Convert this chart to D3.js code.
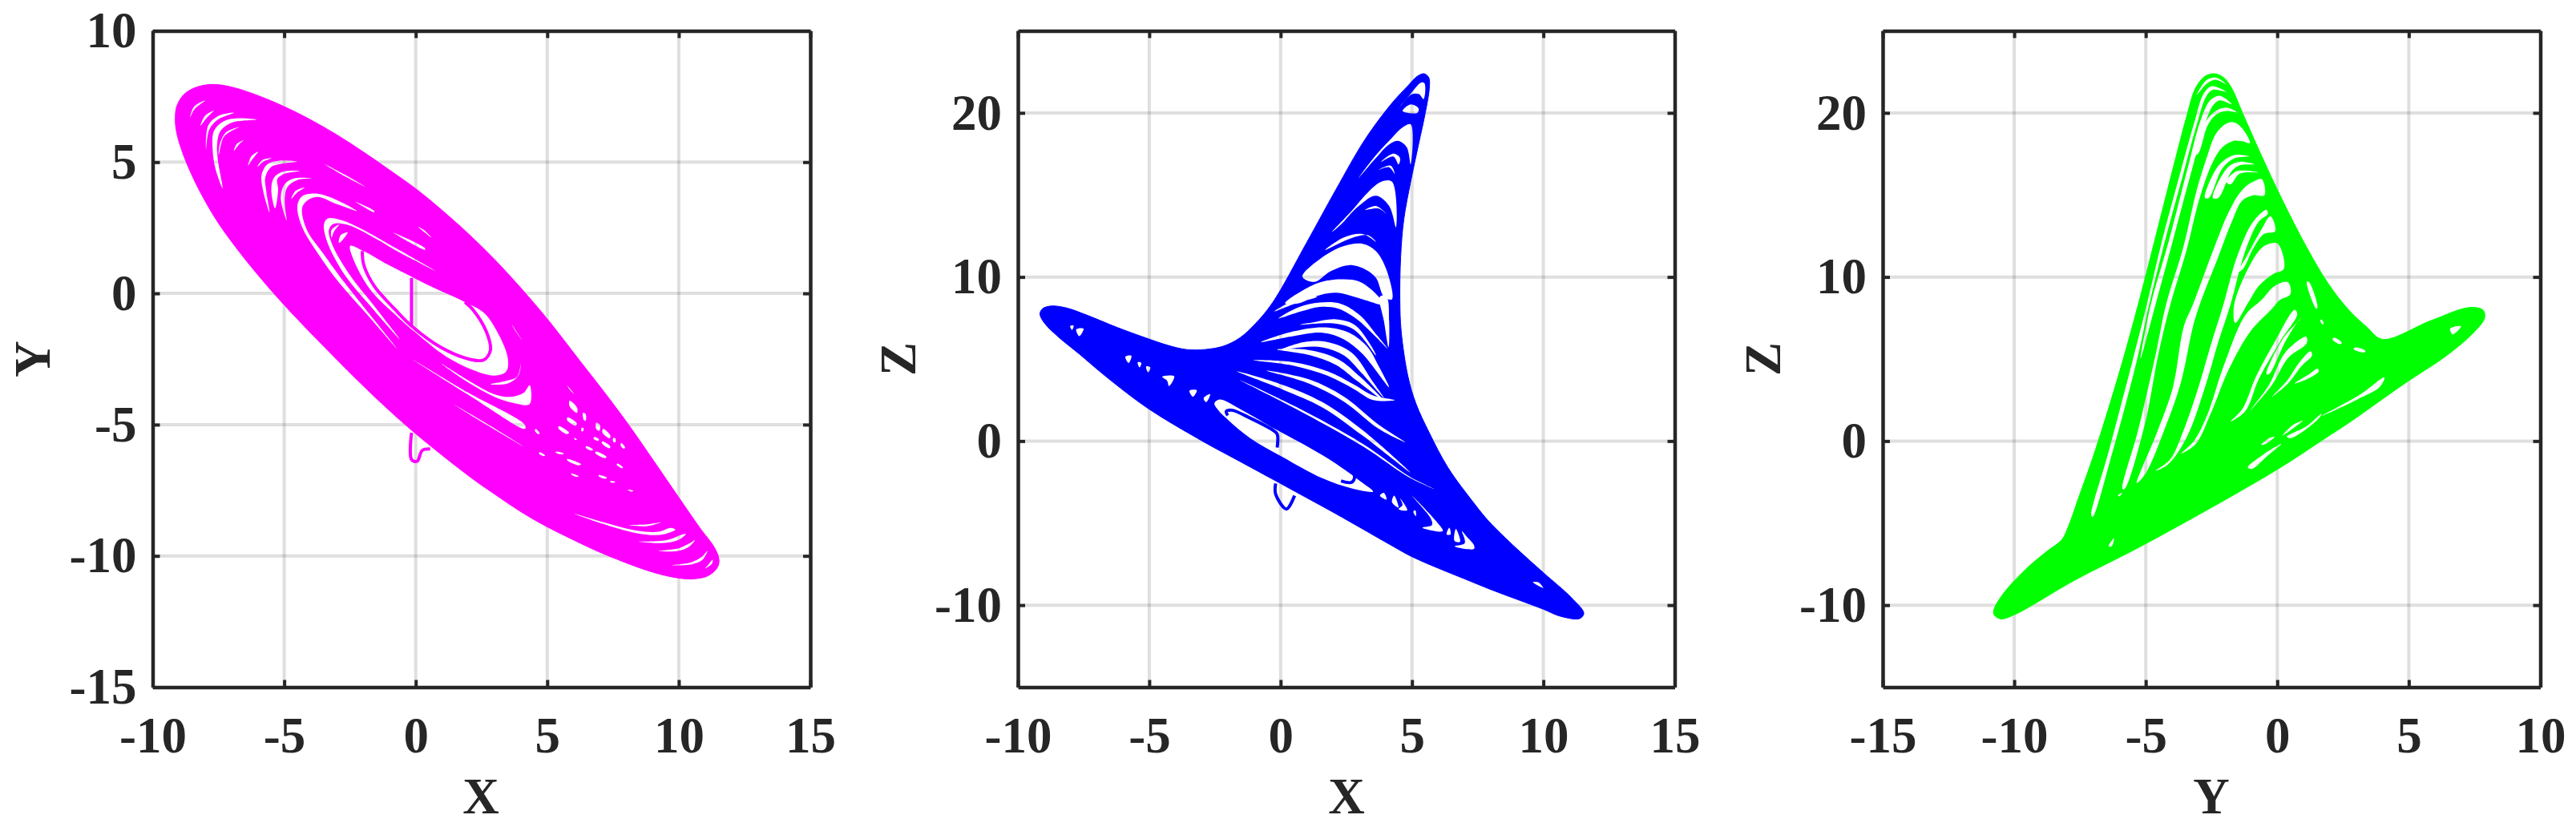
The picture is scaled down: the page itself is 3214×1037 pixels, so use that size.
<!DOCTYPE html>
<html><head><meta charset="utf-8">
<script src="https://cdn.jsdelivr.net/npm/d3@7"></script>
<style>html,body{margin:0;padding:0;background:#fff}svg{display:block}</style>
</head><body><div id="c"></div>
<script>
const xTicksA=[-10,-5,0,5,10,15], yTicksA=[-15,-10,-5,0,5,10], zTicks=[-10,0,10,20];

/* ---------- X-Y projection ---------- */
const xyOutline=[[-9.14,6.7],[-9.09,7.11],[-8.83,7.56],[-8.38,7.84],[-7.72,7.96],[-6.96,7.85],[-6.04,7.55],[-5.03,7.13],[-4.01,6.62],[-3,6.04],[-1.98,5.38],[-0.97,4.68],[0.05,3.95],[0.96,3.2],[1.97,2.3],[2.99,1.3],[4,0.2],[5.02,-1],[6.24,-2.57],[7.15,-3.74],[8.06,-4.96],[9.08,-6.43],[9.99,-7.76],[10.8,-8.93],[11.36,-9.69],[11.53,-10.15],[11.46,-10.45],[11.11,-10.76],[10.5,-10.88],[9.79,-10.81],[8.98,-10.61],[7.96,-10.25],[6.95,-9.84],[5.93,-9.36],[4.97,-8.88],[4,-8.32],[3.09,-7.71],[2.28,-7.15],[0.96,-6.13],[-0.16,-5.21],[-1.07,-4.4],[-2.09,-3.43],[-3.1,-2.42],[-4.62,-0.85],[-5.64,0.28],[-6.65,1.51],[-7.47,2.63],[-8.08,3.65],[-8.58,4.66],[-8.94,5.58],[-9.11,6.24]];
const xyHole=[[-2.49,1.81],[-1.98,1.61],[-1.07,1.1],[-0.16,0.64],[0.86,0.13],[1.87,-0.33],[2.58,-0.73],[3.09,-1.45],[3.5,-2.47],[3.44,-2.97],[2.99,-3.13],[2.18,-2.92],[1.16,-2.41],[-0.06,-1.45],[-0.87,-0.73],[-1.68,0.08],[-2.24,1]];
const xyStrandA=[[-2.03,1.61],[-1.98,1.1],[-1.58,0.28],[-0.77,-0.63],[-0.16,-1.24],[0.96,-2.06],[1.97,-2.49],[2.58,-2.54],[2.84,-2.16],[2.68,-1.45],[2.18,-0.63],[1.87,-0.33]];
const xyStart=[[-0.16,0.59],[-0.16,-1.24]];
const xyTail=[[-0.16,-5.31],[-0.16,-6.33],[0.05,-6.4],[0.25,-5.98],[0.55,-5.93]];
const xyGaps=[
[[-6.05,6.62],[-6.76,6.67],[-7.31,6.55],[-7.67,6.19],[-7.72,5.48],[-7.62,4.77],[-7.34,4],[-7.52,5.07],[-7.55,5.68],[-7.42,6.19],[-7.01,6.5],[-6.55,6.58]],
[[-6.91,6.88],[-7.52,6.75],[-7.89,6.39],[-7.97,5.48],[-7.85,6.24],[-7.52,6.62]],
[[-8.02,7.34],[-8.43,7.11],[-8.58,6.7],[-8.4,7.03]],
[[-7.67,6.97],[-8.02,6.75],[-8.18,6.39],[-7.95,6.68]],
[[-6.71,6.34],[-7.21,6.14],[-7.45,5.68],[-7.49,5.27],[-7.31,5.94],[-7.04,6.17]],
[[-6.55,5.83],[-6.81,5.68],[-6.91,5.43],[-6.73,5.66]],
[[-5.99,5.4],[-6.25,5.22],[-6.37,4.87],[-6.2,5.12]],
[[-4.52,5.02],[-5.23,5.05],[-5.64,4.92],[-5.86,4.51],[-5.79,3.85],[-5.56,3.09],[-5.69,3.95],[-5.72,4.41],[-5.49,4.82],[-5.03,4.95]],
[[-5.49,5.15],[-5.84,5.07],[-6.02,4.82],[-5.79,5.02]],
[[-4.42,4.66],[-5.03,4.64],[-5.39,4.41],[-5.49,3.95],[-5.35,3.24],[-5.23,3.95],[-5.26,4.36],[-4.98,4.56]],
[[-3.96,4.38],[-4.62,4.38],[-4.98,4.16],[-5.13,3.65],[-4.91,2.78],[-4.98,3.54],[-4.88,4.05],[-4.52,4.31]],
[[-4.22,4.03],[-4.57,3.9],[-4.73,3.6],[-4.52,3.83]],
[[-2.24,3.14],[-3.1,3.6],[-3.81,3.8],[-4.32,3.7],[-4.5,3.34],[-4.32,2.53],[-3.71,1.51],[-2.9,0.39],[-1.78,-0.88],[-0.72,-2.1],[-2.69,0.39],[-3.51,1.51],[-4.14,2.42],[-4.32,3.24],[-4.12,3.54],[-3.71,3.67],[-3.1,3.44]],
[[0.76,0.85],[-0.56,1.61],[-2.09,2.47],[-2.8,2.78],[-3.35,2.85],[-3.49,2.63],[-3.35,1.92],[-2.69,0.69],[-1.78,-0.42],[-0.61,-1.75],[-1.63,-0.42],[-2.54,0.75],[-3.2,1.92],[-3.3,2.42],[-3.12,2.65],[-2.59,2.61],[-1.58,2.12],[-0.56,1.53]],
[[-2.59,2.32],[-2.85,2.22],[-2.92,1.92],[-2.75,2.07]],
[[-2.9,2.63],[-3.2,2.42],[-3.2,2.12],[-3.1,2.37]],
[[-1.93,4.07],[-2.69,4.46],[-3.46,4.92],[-2.69,4.52]],
[[-1.58,3.09],[-2.29,3.49],[-1.58,3.14]],
[[0.35,1.66],[-0.87,2.32],[0.35,1.72]],
[[0.6,2.12],[0.1,2.53],[0.3,2.42]],
[[0.96,-2.67],[1.97,-3.38],[2.99,-3.94],[3.7,-4.17],[4.33,-4.22],[4.33,-3.5],[4.1,-3.79],[3.6,-3.94],[2.99,-3.84],[1.97,-3.3]],
[[2.84,-3.46],[3.5,-3.43],[3.9,-3.13],[4,-2.67],[3.85,-3.18],[3.44,-3.33]],
[[3.65,-1.19],[4.05,-1.8],[3.8,-1.45]],
[[1.47,-4.25],[2.78,-5.06],[4.15,-5.87],[2.78,-5.01]],
[[-0.11,-2.52],[1.97,-3.84],[4.15,-5.16],[4.15,-5.01],[1.97,-3.77]],
[[5.85,-4.09],[6.13,-4.35],[6.13,-4.55],[5.85,-4.3]],
[[5.75,-3.5],[6.03,-3.84],[5.88,-3.7]],
[[5.78,-4.72],[6.13,-4.96],[6.08,-5.04],[5.75,-4.82]],
[[5.44,-5.06],[5.83,-5.31],[5.75,-5.36],[5.42,-5.13]],
[[6.36,-4.55],[6.46,-4.6],[6.46,-4.85],[6.39,-4.82]],
[[6.86,-4.93],[7,-5.01],[6.98,-5.23],[6.86,-5.16]],
[[7.12,-5.16],[7.4,-5.42],[7.37,-5.52],[7.1,-5.31]],
[[7.1,-5.64],[7.4,-5.84],[7.35,-5.9],[7.07,-5.7]],
[[6.79,-5.47],[6.97,-5.57],[6.93,-5.62],[6.76,-5.54]],
[[7.81,-5.7],[7.96,-5.87],[7.91,-5.92],[7.79,-5.8]],
[[6.85,-6.03],[7.25,-6.23],[7.2,-6.28],[6.82,-6.08]],
[[6.49,-5.82],[6.74,-5.95],[6.69,-5.99],[6.46,-5.87]],
[[5.75,-6.31],[6.29,-6.51],[6.19,-6.55],[5.78,-6.38]],
[[5.32,-6.03],[5.63,-6.1],[5.58,-6.13],[5.34,-6.08]],
[[6.95,-6.92],[7.27,-7.02],[7.2,-7.06],[6.97,-6.98]],
[[5.91,-6.86],[6.19,-6.97],[6.13,-6.99],[5.93,-6.91]],
[[7.66,-6.48],[7.88,-6.64],[7.84,-6.66],[7.64,-6.53]],
[[4.56,-5.16],[4.71,-5.33],[4.66,-5.36],[4.53,-5.23]],
[[4.71,-6.05],[4.92,-6.18],[4.87,-6.2],[4.69,-6.11]],
[[7.4,-7.15],[7.59,-7.18],[7.55,-7.21],[7.4,-7.19]],
[[6.03,-5.5],[6.13,-5.57],[6.05,-5.58]],
[[7.5,-5.52],[7.59,-5.52],[7.59,-5.67],[7.52,-5.67]],
[[6.32,-5.11],[6.39,-5.16],[6.34,-5.26],[6.29,-5.23]],
[[8.06,-7.48],[8.27,-7.52],[8.21,-7.55]],
[[6.03,-8.39],[7.15,-8.79],[8.37,-9.13],[9.28,-9.2],[9.87,-9],[9.69,-8.93],[9.23,-9.08],[8.37,-9.03],[7.15,-8.72]],
[[8.47,-9.46],[9.38,-9.51],[9.99,-9.39],[10.27,-9.16],[10.09,-9.2],[9.69,-9.36],[9.18,-9.44]],
[[9.23,-9.81],[9.99,-9.81],[10.4,-9.64],[10.62,-9.39],[10.45,-9.5],[9.99,-9.71]],
[[9.74,-10.35],[10.5,-10.32],[10.9,-10.15],[11.09,-9.81],[10.85,-10.05],[10.45,-10.25]],
[[11,-10.48],[11.26,-10.3],[11.29,-10.15],[11.11,-10.35]],
[[8.11,-8.82],[8.77,-8.87],[9.33,-8.72],[8.77,-8.8]]
];

/* ---------- X-Z projection ---------- */
const xzOutline=[[-9.16,7.74],[-9.06,8.07],[-8.72,8.23],[-8.17,8.12],[-7.35,7.66],[-6.23,6.93],[-5.12,6.28],[-4.3,5.84],[-3.59,5.58],[-2.88,5.58],[-2.17,5.79],[-1.56,6.28],[-0.95,7.17],[-0.3,8.45],[0.98,12.06],[2.1,15.31],[3.22,18.4],[4.24,20.6],[4.85,21.66],[5.2,22.23],[5.46,22.39],[5.64,22.15],[5.66,21.5],[5.51,20.03],[5.25,18.08],[4.95,15.8],[4.69,13.52],[4.57,11.24],[4.54,8.6],[4.59,6.68],[4.85,3.92],[5.15,2.29],[5.66,0.5],[6.37,-1.62],[7.39,-3.85],[7.93,-4.9],[8.98,-6.55],[10.02,-8.05],[11.07,-9.55],[11.54,-10.5],[11.38,-10.82],[10.65,-10.68],[10,-10.25],[9,-9.65],[8,-9.05],[7,-8.4],[6,-7.75],[5,-7.05],[4.13,-6.28],[2.1,-4.43],[0.58,-3.1],[-0.24,-2.38],[-1.46,-1.32],[-2.98,0],[-5.02,1.96],[-6.64,3.92],[-7.66,5.3],[-8.47,6.36],[-8.98,7.17]];
const xzHole=[[-2.52,2.29],[-2.32,2.53],[-1.46,1.88],[-0.13,0.66],[1.09,-0.4],[2.1,-1.37],[3.02,-2.43],[3.52,-3.08],[2.71,-2.89],[1.59,-2.27],[0.07,-0.97],[-1.15,0.17],[-1.96,1.23],[-2.37,1.88]];
const xzStrandA=[[-2.01,1.56],[-2.07,1.8],[-1.86,1.88],[-1.15,1.39],[-0.29,0.66],[-0.13,0.42],[-0.13,-0.4]];
const xzStrandB=[[1.8,-0.8],[2.81,-2.1],[2.71,-2.51],[2.3,-2.43]];
const xzTail=[[-0.19,-2.59],[-0.19,-3.24],[0.22,-4.14],[0.53,-3.33]];
const xzGaps=[
[[4.49,20.27],[4.95,21.17],[5.35,21.85],[5.48,21.79],[5.44,20.84],[5.27,21.14],[5,21.14],[4.69,20.68]],
[[4.64,20.11],[4.95,20.52],[5.25,20.28],[5.2,20]],
[[2.97,16.04],[3.63,17.43],[4.24,18.48],[4.59,19.05],[4.95,19.3],[4.95,16.86],[4.8,17.91],[4.49,18.29],[4.13,18.08],[3.63,17.26]],
[[3.83,17.02],[4.29,17.51],[4.54,17.26],[4.49,16.86],[4.29,17.34]],
[[3.73,16.53],[4.13,16.69],[4.34,16.29],[4.19,16.78]],
[[1.95,12.74],[2.71,14.04],[3.32,15.15],[3.83,15.8],[4.24,15.8],[4.39,13.03],[4.13,14.33],[3.63,14.95],[2.92,14.25],[2.3,13.2]],
[[3.22,14.09],[3.63,14.33],[4.03,13.84],[3.73,14.17]],
[[1.7,11.65],[2.41,12.41],[3.12,12.62],[3.63,12.14],[3.32,12.54],[2.71,12.38]],
[[0.83,10.02],[1.7,11.32],[2.41,11.89],[3.12,12.02],[3.63,11.57],[4.03,10.43],[4.24,8.64],[3.93,8.8],[3.63,9.94],[3.22,10.46],[2.61,10.72],[1.9,10.35],[1.29,9.7]],
[[0.17,8.39],[1.39,9.61],[2.3,9.86],[3.02,9.7],[3.73,8.8],[3.91,8.31],[3.12,8.64],[2.1,9.04],[1.29,8.8],[0.68,8.39]],
[[3.78,8.8],[3.93,7.34],[4.11,5.71],[4.13,7.34],[4.03,8.8]],
[[-0.24,7.9],[0.27,8.39],[0.88,8.8],[1.39,8.8],[0.58,8.39]],
[[-0.08,7.47],[0.68,8.15],[1.49,8.44],[2.3,8.36],[3.02,7.66],[3.63,6.52],[4.08,5.63],[3.52,6.52],[2.91,7.42],[2.2,8.07],[1.49,8.18],[0.78,7.9]],
[[0.73,7.09],[1.29,7.25],[2.1,7.42],[2.81,7.09],[3.42,5.87],[3.63,5.22],[2.81,6.77],[2,7.17]],
[[-0.74,6.03],[0.48,6.68],[1.69,6.93],[2.61,6.6],[3.32,5.71],[3.73,4.57],[4.13,3.27],[3.12,5.3],[2.41,6.2],[1.59,6.6],[0.48,6.39]],
[[-0.03,5.54],[0.88,6.03],[1.8,6.03],[2.71,5.38],[3.52,3.59],[3.93,2.62],[3.12,4.08],[2.41,5.22],[1.59,5.71],[0.78,5.71]],
[[-0.13,5.58],[1.09,5.54],[2.2,4.98],[3.02,3.92],[3.93,2.45],[2.91,3.67],[2.1,4.65],[1.09,5.25]],
[[-1.05,4.93],[0.48,4.81],[1.8,4.24],[2.81,3.43],[3.52,2.78],[4.34,2.5],[3.52,2.5],[2.81,3.15],[1.8,3.97],[0.48,4.6]],
[[-0.54,4.29],[1.09,3.75],[2.41,2.7],[3.73,0.99],[4.74,-0.07],[3.73,0.75],[2.41,2.4],[1.09,3.5]],
[[-1.66,4.24],[0.07,3.43],[1.59,2.37],[3.12,0.66],[4.95,-1.94],[3.12,0.33],[1.59,2.05],[0.07,3.15]],
[[-1.56,3.72],[0.58,1.96],[3.12,-0.31],[4.95,-2.27],[5.86,-2.92],[4.95,-2.2],[3.12,-0.16],[0.58,2.09]],
[[6.62,-6.42],[7.36,-6.58],[7.36,-6.35],[7.1,-5.85],[6.9,-5.5],[7,-5.95],[7,-6.25]],
[[5.4,-5.28],[6.17,-5.49],[5.91,-4.87],[4.99,-3.33],[5.71,-4.71],[5.76,-5.12]],
[[6.32,-5.69],[6.47,-5.69],[6.42,-5.28]],
[[6.62,-6.09],[6.83,-6.14],[6.67,-5.36]],
[[4.49,-4.14],[4.82,-4.22],[4.54,-3.49],[4.64,-3.9]],
[[4.24,-3.73],[4.49,-4.06],[4.32,-3.33]],
[[3.78,-3.33],[4.03,-3.57],[3.93,-3.16]],
[[5.05,-4.3],[5.15,-4.58],[5.13,-4.22]],
[[9.6,-8.6],[10,-8.95],[9.8,-8.6]],
[[-4.51,3.92],[-4.05,3.95],[-4.25,3.35],[-4.32,3.67]],
[[-3.47,3.07],[-3.19,3.1],[-3.34,2.7]],
[[-2.93,2.62],[-2.68,2.86],[-2.83,2.37]],
[[-5.91,5.14],[-5.68,5.19],[-5.78,4.76]],
[[-5.44,4.81],[-5.3,4.76],[-5.37,4.49]],
[[-5.12,4.54],[-4.96,4.49],[-5.04,4.19]],
[[-7.78,6.81],[-7.5,6.85],[-7.66,6.39]],
[[-8.01,7.01],[-7.88,7.04],[-7.94,6.77]]
];

/* ---------- Y-Z projection ---------- */
const yzOutline=[[-10.77,-10.26],[-10.41,-9.29],[-9.58,-7.84],[-8.75,-6.71],[-8.19,-6.01],[-7.94,-5.19],[-7.53,-3.35],[-7.02,-1.05],[-6.51,1.5],[-5.9,4.75],[-5.29,8.3],[-4.79,11.4],[-4.38,14],[-3.87,17.2],[-3.46,19.7],[-3.11,21.5],[-2.75,22.23],[-2.39,22.39],[-2.04,22.15],[-1.73,21.5],[-1.33,20.03],[-0.61,17.43],[0.2,14.66],[1.12,11.8],[1.93,9.61],[2.71,8],[3.4,6.95],[4,6.2],[5.84,7.34],[7.3,8.14],[7.82,7.98],[7.88,7.5],[7.51,6.69],[6.46,5.24],[4.8,3.46],[2.71,1.1],[1.83,0.18],[-0.05,-1.78],[-4.99,-6.25],[-7.71,-8.49],[-10,-10.59],[-10.52,-10.84],[-10.77,-10.58]];
const yzGaps=[
[[-3.06,21.09],[-2.7,21.98],[-2.34,22.15],[-1.94,21.74],[-2.34,22.02],[-2.65,21.82]],
[[-7.07,-4.54],[-6.41,-0.64],[-5.5,4.9],[-4.95,8.39],[-4.38,12.22],[-3.67,16.45],[-3.16,19.38],[-2.8,21.17],[-2.5,21.62],[-1.94,21.28],[-2.45,21.41],[-2.7,21.01],[-3.06,19.3],[-3.56,16.37],[-4.28,12.14],[-4.87,8.32],[-5.34,4.9],[-6.26,-0.64],[-7.02,-4.62]],
[[-5.2,5],[-4.81,8.31],[-4.12,12.22],[-3.41,16.61],[-2.9,19.62],[-2.55,20.76],[-2.19,21.04],[-1.73,20.52],[-2.19,20.76],[-2.45,20.44],[-2.7,19.54],[-3.26,16.45],[-3.97,12.22],[-4.63,8.31]],
[[-5.88,-2.91],[-5.29,0.67],[-4.63,5.22],[-4.23,8.3],[-3.56,11.89],[-3.06,15.31],[-2.65,17.43],[-2.39,18.57],[-2.09,19.18],[-1.73,19.44],[-1.38,19.14],[-1.04,18.16],[-1.33,18.27],[-1.68,18.29],[-2.09,17.91],[-2.45,17.02],[-2.95,14.82],[-3.46,11.57],[-4.07,8.3],[-4.53,5.22],[-5.04,0.99],[-5.8,-2.91]],
[[-3.16,17.43],[-2.75,19.38],[-2.39,20.06],[-1.94,20.32],[-1.53,20.03],[-1.94,20.11],[-2.34,19.87],[-2.65,19.22],[-3.01,17.51]],
[[-2.75,14.82],[-2.24,16.77],[-1.63,17.43],[-1.07,17.34],[-1.63,17.23],[-2.09,16.61],[-2.6,14.82]],
[[-2.45,14.82],[-1.88,16.69],[-1.43,17.02],[-0.87,16.86],[-1.43,16.81],[-1.73,16.45],[-2.24,14.82]],
[[-1.94,15.8],[-1.53,16.45],[-0.71,16.37],[-1.43,16.29],[-1.78,15.64]],
[[-5.34,-2.56],[-4.58,0.5],[-3.97,3.27],[-3.55,7.01],[-3.21,8.31],[-2.45,11.57],[-1.83,14.01],[-1.33,15.31],[-0.92,15.8],[-0.59,15.96],[-0.49,14.98],[-0.92,14.98],[-1.33,14.66],[-1.73,13.36],[-2.24,11.24],[-2.95,8.31],[-3.2,7.01],[-3.66,3.6],[-4.22,0.99],[-4.99,-1.94]],
[[-4.63,-1.81],[-4.07,-1.12],[-3.56,0.67],[-3,3.27],[-2.5,6],[-2.05,8.31],[-1.53,11.24],[-0.92,13.36],[-0.41,14.09],[-0.36,13.85],[-0.71,13.36],[-1.22,11.57],[-1.78,8.31],[-2.25,6],[-2.75,3.27],[-3.46,0.18],[-4.17,-1.45]],
[[-1.5,10.3],[-1.17,11.24],[-0.61,12.87],[-0.26,13.71],[-0.08,12.79],[-0.51,12.62],[-0.92,11.73],[-1.3,10.5]],
[[-1.6,7.2],[-1.63,8.39],[-0.71,11.57],[-0.31,12.02],[0.02,12.02],[0.25,10.51],[-0.16,10.18],[-0.71,9.45],[-1.12,8.39]],
[[-3.66,-0.77],[-3.16,0.02],[-2.65,1.64],[-2.04,4.57],[-1.22,7.66],[-0.6,8.6],[-0.1,9.45],[0.4,9.69],[0.5,8.96],[0.1,8.6],[-0.2,8.07],[-1.02,6.69],[-1.83,4.41],[-2.54,1.64],[-3.1,-0.18]],
[[-1.78,1.19],[-1.32,1.97],[-0.81,3.92],[-0.1,6.04],[0.66,7.99],[0.76,7.75],[0.1,6.04],[-0.71,3.76],[-1.22,1.81]],
[[-1.02,1.89],[-0.31,3.43],[0.3,5.39],[1.1,6.36],[1.12,5.96],[0.41,5.06],[-0.2,3.43]],
[[-0.2,2.7],[0.41,3.76],[0.81,4.73],[1.27,5.47],[1.32,5.22],[0.92,4.57],[0.41,3.51]],
[[0.66,3.51],[1.22,4.08],[1.53,4.41],[1.58,4.25],[1.22,3.84]],
[[-0.41,4.08],[0.2,6.2],[0.92,7.5],[0.81,7.34],[0.3,6.04],[-0.31,4.08]],
[[0.36,0.26],[1.12,0.91],[1.68,1.67],[1.63,1.48],[1.12,0.75],[0.51,0.18]],
[[-1.12,-1.61],[-0.51,-0.8],[0.15,-0.18],[-0.41,-0.96],[-0.97,-1.7]],
[[-0.61,-0.23],[-0.31,0.18],[-0.1,0.26],[-0.41,-0.15]],
[[0.2,0.34],[0.61,0.99],[0.97,1.24],[0.51,0.67]],
[[-6.41,-6.41],[-6.21,-5.93],[-6.29,-6.41]],
[[-6.06,-3.32],[-5.9,-3.16],[-6,-3.37]],
[[1.12,9.7],[1.48,8.07],[1.53,8.15],[1.2,9.7]],
[[1.63,7.34],[1.73,7.1],[1.76,7.2],[1.68,7.4]],
[[2.1,6.2],[2.4,5.9],[2.45,6],[2.15,6.3]],
[[2.9,5.6],[3.3,5.4],[3.35,5.5],[2.95,5.7]],
[[1.67,1.52],[3.13,2.81],[4.07,3.88],[3.9,3.3],[3,2.5]],
[[6.57,6.85],[6.99,7],[6.67,6.5]]
];

const panels=[
 {id:"xy",frame:[190.5,1011,38.5,857.5],xd:[-10,15],yd:[-15,10],xt:xTicksA,yt:yTicksA,color:"#ff00ff",xl:"X",yl:"Y",xlx:600,ylx:61.5,outline:xyOutline,gaps:[xyHole].concat(xyGaps),lines:[xyStrandA,xyStart,xyTail]},
 {id:"xz",frame:[1270,2089.5,38.5,857.5],xd:[-10,15],yd:[-15,25],xt:xTicksA,yt:zTicks,color:"#0000ff",xl:"X",yl:"Z",xlx:1680,ylx:1142,outline:xzOutline,gaps:[xzHole].concat(xzGaps),lines:[xzStrandA,xzStrandB,xzTail]},
 {id:"yz",frame:[2349,3169.5,38.5,857.5],xd:[-15,10],yd:[-15,25],xt:yTicksA,yt:zTicks,color:"#00ff00",xl:"Y",yl:"Z",xlx:2759,ylx:2220.5,outline:yzOutline,gaps:yzGaps,lines:[]}
];

const ink="#262626", font="'Liberation Serif','Times New Roman',serif";
const svg=d3.select("#c").append("svg").attr("width",3214).attr("height",1037).attr("viewBox","0 0 3214 1037");
svg.append("rect").attr("width",3214).attr("height",1037).attr("fill","#fff");
const defs=svg.append("defs");

panels.forEach(p=>{
  const [l,r,t,b]=p.frame;
  const sx=d3.scaleLinear().domain(p.xd).range([l,r]);
  const sy=d3.scaleLinear().domain(p.yd).range([b,t]);
  const g=svg.append("g");

  // grid
  g.selectAll(".gx").data(p.xt.slice(1,-1)).join("line")
    .attr("x1",d=>sx(d)).attr("x2",d=>sx(d)).attr("y1",t).attr("y2",b)
    .attr("stroke",ink).attr("stroke-opacity",0.15).attr("stroke-width",4);
  g.selectAll(".gy").data(p.yt.filter(v=>v>p.yd[0]&&v<p.yd[1])).join("line")
    .attr("x1",l).attr("x2",r).attr("y1",d=>sy(d)).attr("y2",d=>sy(d))
    .attr("stroke",ink).attr("stroke-opacity",0.15).attr("stroke-width",4);

  // attractor
  const closed=d3.line().x(d=>sx(d[0])).y(d=>sy(d[1])).curve(d3.curveCatmullRomClosed.alpha(0.5));
  const open=d3.line().x(d=>sx(d[0])).y(d=>sy(d[1])).curve(d3.curveCatmullRom.alpha(0.5));
  const mask=defs.append("mask").attr("id","m-"+p.id).attr("maskUnits","userSpaceOnUse")
    .attr("x",0).attr("y",0).attr("width",3214).attr("height",1037);
  mask.append("rect").attr("width",3214).attr("height",1037).attr("fill","#fff");
  mask.selectAll("path").data(p.gaps).join("path").attr("d",closed).attr("fill","#000");
  g.append("path").datum(p.outline).attr("d",closed).attr("fill",p.color)
    .attr("stroke",p.color).attr("stroke-width",1).attr("mask","url(#m-"+p.id+")");
  g.selectAll(".strand").data(p.lines).join("path").attr("d",open)
    .attr("fill","none").attr("stroke",p.color).attr("stroke-width",4).attr("stroke-linejoin","round");

  // axes
  const style=a=>{
    a.selectAll("text").attr("font-family",font).attr("font-weight","bold").attr("font-size",63).attr("fill",ink);
    a.selectAll("line").attr("stroke",ink).attr("stroke-width",4);
    a.select(".domain").attr("stroke",ink).attr("stroke-width",4.5);
  };
  svg.append("g").attr("transform",`translate(0,${b})`)
    .call(d3.axisBottom(sx).tickValues(p.xt).tickSizeInner(-9).tickSizeOuter(0).tickPadding(37).tickFormat(String)).call(style);
  svg.append("g").attr("transform",`translate(${l},0)`)
    .call(d3.axisLeft(sy).tickValues(p.yt).tickSizeInner(-9).tickSizeOuter(0).tickPadding(20).tickFormat(String)).call(style);
  svg.append("g").attr("transform",`translate(0,${t})`)
    .call(d3.axisTop(sx).tickValues(p.xt).tickSizeInner(-9).tickSizeOuter(0).tickFormat("")).call(style);
  svg.append("g").attr("transform",`translate(${r},0)`)
    .call(d3.axisRight(sy).tickValues(p.yt).tickSizeInner(-9).tickSizeOuter(0).tickFormat("")).call(style);

  // axis labels
  svg.append("text").attr("x",p.xlx).attr("y",1015).attr("text-anchor","middle")
    .attr("font-family",font).attr("font-weight","bold").attr("font-size",63).attr("fill",ink).text(p.xl);
  svg.append("text").attr("transform",`translate(${p.ylx},448) rotate(-90)`).attr("text-anchor","middle")
    .attr("font-family",font).attr("font-weight","bold").attr("font-size",63).attr("fill",ink).text(p.yl);
});
</script></body></html>
